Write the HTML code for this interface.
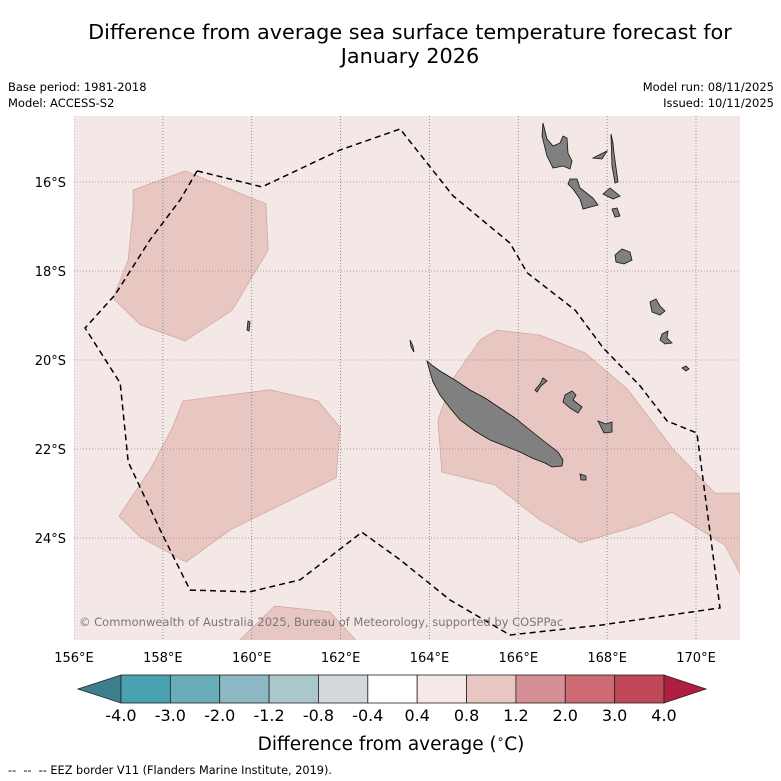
<!DOCTYPE html>
<html><head><meta charset="utf-8"><style>
body{margin:0;background:#fff;width:781px;height:781px;overflow:hidden;font-family:"DejaVu Sans","Liberation Sans",sans-serif}
svg{position:absolute;left:0;top:0}
</style></head><body>
<svg id="c" width="781" height="781" viewBox="0 0 781 781">
<text x="410" y="39" font-size="20.8" text-anchor="middle">Difference from average sea surface temperature forecast for</text>
<text x="410" y="63" font-size="20.8" text-anchor="middle">January 2026</text>
<text x="8" y="91" font-size="11.5">Base period: 1981-2018</text>
<text x="8" y="107" font-size="11.5">Model: ACCESS-S2</text>
<text x="774" y="91" font-size="11.5" text-anchor="end">Model run: 08/11/2025</text>
<text x="774" y="107" font-size="11.5" text-anchor="end">Issued: 10/11/2025</text>
<defs><clipPath id="mc"><rect x="74" y="116" width="666" height="524"/></clipPath></defs>
<rect x="74" y="116" width="666" height="524" fill="#f4e8e6"/>
<g id="regions" clip-path="url(#mc)"></g>
<g id="grid" clip-path="url(#mc)"></g>
<g id="islands" clip-path="url(#mc)" fill="#808080" stroke="#111" stroke-width="0.8">
<path d="M427,361 L433,366 440,371 455,380 470,390 485,398 500,408 515,418 530,430 545,442 558,452 563,460 562,466 552,467 545,463 532,458 520,452 505,446 490,440 475,431 460,420 450,408 440,395 433,382 430,372Z"/>
<path d="M543,123 L547,139 553,146 560,143 563,136 567,138 568,153 572,161 570,169 563,166 553,168 547,156 542,136Z"/>
<path d="M570,179 L577,179 580,188 593,198 598,205 583,209 580,199 573,189 568,184Z"/>
<path d="M593,158 L607,151 602,159Z"/>
<path d="M611,134 L613,143 614,153 618,182 615,183 612,166 611,136Z"/>
<path d="M603,194 L610,188 620,196 613,199Z"/>
<path d="M612,209 L617,208 620,216 615,217Z"/>
<path d="M615,255 L622,249 630,252 632,260 624,264 616,262Z"/>
<path d="M650,302 L656,299 660,306 665,311 660,315 652,312Z"/>
<path d="M662,334 L668,331 667,338 672,343 665,344 660,340Z"/>
<path d="M682,368 L686,366 689,369 686,371Z"/>
<path d="M565,395 L572,391 576,395 573,400 582,407 578,413 570,408 563,402Z"/>
<path d="M598,421 L606,424 612,422 612,432 604,433Z"/>
<path d="M543,378 L547,381 541,386 537,392 535,390 540,384Z"/>
<path d="M580,474 L586,476 586,480 581,480Z"/>
<path d="M248,321 L250,322 249,331 247,330Z"/>
<path d="M410,340 L413,346 414,352 411,347Z"/>
</g>
<g id="eez" clip-path="url(#mc)"></g>
<text x="79" y="626" font-size="11.5" fill="#777">© Commonwealth of Australia 2025, Bureau of Meteorology, supported by COSPPac</text>
<g id="axes"></g>
<g id="cbar"></g>
<text x="391" y="750" font-size="18.5" text-anchor="middle">Difference from average (<tspan font-size="12" dy="-7">∘</tspan><tspan dy="7">C)</tspan></text>
<text x="8" y="774" font-size="11.3" xml:space="preserve">--  --  -- EEZ border V11 (Flanders Marine Institute, 2019).</text>
</svg>
<script>
const lonTicks=[156,158,160,162,164,166,168,170];
const latTicks=[16,18,20,22,24];
const regionA=[[157.33,16.18],[158.5,15.75],[160.32,16.49],[160.37,17.53],[159.56,18.88],[158.5,19.57],[157.49,19.21],[156.88,18.61],[157.22,17.75],[157.33,16.63]];
const regionB=[[158.45,20.92],[160.41,20.67],[161.49,20.92],[161.99,21.51],[161.9,22.65],[160.64,23.26],[159.51,23.82],[158.52,24.54],[157.49,23.98],[157.01,23.51],[157.71,22.47],[158.21,21.53]];
const regionC=[[165.14,19.55],[165.52,19.33],[166.49,19.44],[167.5,19.84],[168.45,20.65],[169.48,22.0],[170.43,22.99],[171.0,22.99],[171.0,24.83],[170.65,24.16],[169.46,23.42],[168.74,23.71],[167.39,24.11],[166.49,23.6],[165.48,22.81],[164.28,22.52],[164.19,21.35],[164.51,20.45]];
const regionD=[[159.62,26.4],[160.52,25.53],[161.76,25.66],[162.44,26.4]];
const eezLine=[[158.77,15.75],[160.23,16.11],[161.99,15.28],[163.34,14.81],[164.53,16.31],[165.81,17.37],[166.2,18.04],[167.28,18.88],[167.91,19.73],[168.74,20.58],[169.35,21.37],[170.02,21.64],[170.54,25.57],[167.84,25.96],[165.81,26.18],[164.46,25.39],[163.34,24.49],[162.48,23.87],[161.09,24.94],[159.96,25.21],[158.61,25.17],[157.94,23.82],[157.22,22.29],[157.04,20.52],[156.25,19.28],[156.92,18.54],[157.71,17.3],[158.39,16.4],[158.77,15.75]];
const cbLabels=["-4.0","-3.0","-2.0","-1.2","-0.8","-0.4","0.4","0.8","1.2","2.0","3.0","4.0"];
const cbColors=["#48a2b2","#69adb9","#8cb9c3","#aac8cc","#d3d8da","#ffffff","#f5e8e6","#e8c7c2","#d78f96","#cd6a74","#bf4757"];
const NS="http://www.w3.org/2000/svg";
const X=lon=>74+(lon-156)*44.43, Y=lat=>182+(lat-16)*44.5;
function mk(t,p,a){const e=document.createElementNS(NS,t);for(const k in a)e.setAttribute(k,a[k]);p.appendChild(e);return e;}
const pts=arr=>arr.map(p=>X(p[0]).toFixed(1)+","+Y(p[1]).toFixed(1)).join(" ");
const rg=document.getElementById("regions");
[regionA,regionB,regionC,regionD].forEach((r,i)=>{
 const e=mk("polygon",rg,{points:pts(r),fill:"#e8c7c2",stroke:"#d4a8a2","stroke-width":"0.8"});
 
 
});
const g=document.getElementById("grid"), ax=document.getElementById("axes");
lonTicks.forEach(l=>{
 const e=mk("line",g,{x1:X(l),x2:X(l),y1:116,y2:640,stroke:"#6d7d92","stroke-width":"0.8","stroke-dasharray":"1,2"});
 
 
 const t=mk("text",ax,{x:X(l),y:662,"font-size":"13","text-anchor":"middle"});t.textContent=l+"°E";
 
 
});
latTicks.forEach(l=>{
 const e=mk("line",g,{x1:74,x2:740,y1:Y(l),y2:Y(l),stroke:"#a07f80","stroke-width":"0.8","stroke-dasharray":"1,2"});
 
 
 const t=mk("text",ax,{x:66,y:Y(l)+5,"font-size":"13","text-anchor":"end"});t.textContent=l+"°S";
 
 
});
const ez=mk("polyline",document.getElementById("eez"),{points:pts(eezLine),fill:"none",stroke:"#000","stroke-width":"1.5","stroke-dasharray":"6,4"});


const cb=document.getElementById("cbar"), x0=121, x1=664, w=(x1-x0)/cbColors.length, cy=675, ch=28;
const lt=mk("polygon",cb,{points:`${x0},${cy} ${x0},${cy+ch} 78,${cy+ch/2}`,fill:"#3b808c",stroke:"#222","stroke-width":"0.8"});


cbColors.forEach((c,i)=>{
 const r=mk("rect",cb,{x:x0+i*w,y:cy,width:w,height:ch,fill:c,stroke:"#222","stroke-width":"0.8"});
 
 
});
const rt=mk("polygon",cb,{points:`${x1},${cy} ${x1},${cy+ch} 706,${cy+ch/2}`,fill:"#b01f3f",stroke:"#222","stroke-width":"0.8"});


cbLabels.forEach((s,i)=>{
 const t=mk("text",cb,{x:x0+i*w,y:721,"font-size":"16","text-anchor":"middle"});t.textContent=s;
 
 
});
</script>
</body></html>
